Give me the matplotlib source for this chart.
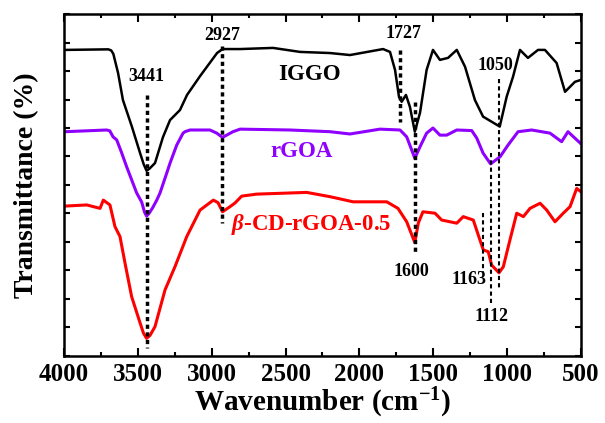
import matplotlib
matplotlib.use('Agg')
from matplotlib import pyplot as plt
from matplotlib.ticker import MultipleLocator
import numpy as np

plt.rcParams['font.family'] = 'Liberation Serif'
plt.rcParams['font.weight'] = 'bold'
plt.rcParams['mathtext.fontset'] = 'custom'
plt.rcParams['mathtext.rm'] = 'Liberation Serif:bold'
plt.rcParams['mathtext.bf'] = 'Liberation Serif:bold'
plt.rcParams['mathtext.it'] = 'Liberation Serif:italic:bold'

# IGGO (black)
iggo_w = [3993, 3700, 3680, 3666, 3634, 3601, 3540, 3485, 3460, 3441, 3420, 3384, 3330,
          3282, 3215, 3167, 3079, 2964, 2927, 2808, 2585, 2402, 2199, 2064, 1840, 1793,
          1759, 1732, 1714, 1685, 1658, 1625, 1590, 1545, 1502, 1455, 1400, 1341, 1285,
          1218, 1163, 1050, 1003, 960, 913, 859, 791, 744, 665, 608, 541, 505]
iggo_t = [10.74, 10.76, 10.72, 10.60, 9.93, 8.98, 8.04, 7.12, 6.72, 6.50, 6.58, 6.77, 7.68,
          8.28, 8.63, 9.16, 9.82, 10.63, 10.77, 10.77, 10.81, 10.67, 10.63, 10.56, 10.77, 10.67,
          10.04, 9.09, 8.92, 9.16, 8.74, 7.87, 8.53, 10.04, 10.74, 10.39, 10.46, 10.74, 10.15,
          8.98, 8.40, 8.05, 9.10, 9.80, 10.74, 10.46, 10.74, 10.74, 10.28, 9.27, 9.62, 9.68]

# rGOA (purple)
rgoa_w = [3993, 3711, 3690, 3668, 3643, 3609, 3576, 3542, 3508, 3474, 3455, 3441, 3425,
          3400, 3372, 3350, 3305, 3282, 3237, 3194, 3181, 3147, 3012, 2966, 2927, 2856,
          2808, 2470, 2199, 2064, 1861, 1725, 1680, 1625, 1590, 1545, 1502, 1455, 1409,
          1341, 1240, 1206, 1163, 1112, 1048, 994, 926, 834, 710, 631, 588, 505]
rgoa_t = [7.87, 7.93, 7.90, 7.69, 7.58, 7.12, 6.64, 6.18, 5.72, 5.40, 5.05, 4.91, 5.00,
          5.20, 5.47, 5.72, 6.41, 6.77, 7.40, 7.82, 7.87, 7.93, 7.93, 7.82, 7.67, 7.87,
          7.96, 7.93, 7.87, 7.79, 7.96, 7.93, 7.69, 6.94, 7.34, 7.82, 8.00, 7.75, 7.75,
          7.93, 7.91, 7.65, 7.12, 6.74, 6.99, 7.40, 7.87, 7.93, 7.82, 7.52, 7.87, 7.47]

# beta-CD-rGOA-0.5 (red)
bcd_w = [3995, 3846, 3756, 3734, 3689, 3655, 3621, 3587, 3542, 3485, 3462, 3441, 3418,
         3384, 3316, 3249, 3169, 3079, 2989, 2957, 2927, 2876, 2842, 2797, 2695, 2357,
         2199, 2043, 1815, 1739, 1680, 1625, 1601, 1570, 1488, 1443, 1387, 1341, 1297,
         1229, 1184, 1161, 1128, 1105, 1055, 1026, 981, 935, 890, 845, 777, 732, 676,
         620, 574, 529, 502]
bcd_t = [5.26, 5.30, 5.18, 5.47, 5.30, 4.54, 4.19, 3.26, 2.08, 1.16, 0.80, 0.62, 0.72,
         1.03, 2.32, 3.13, 4.19, 5.12, 5.47, 5.38, 5.06, 5.24, 5.37, 5.61, 5.68, 5.74,
         5.59, 5.41, 5.41, 5.18, 4.71, 3.98, 4.67, 5.06, 5.01, 4.77, 4.71, 4.66, 4.89,
         4.77, 4.07, 3.72, 3.66, 3.19, 2.92, 3.13, 4.07, 5.01, 4.89, 5.18, 5.36, 5.12, 4.71,
         5.01, 5.24, 5.88, 5.77]

# peak markers: position, line start/end, label, label position
thick_x = [3441, 2927, 1727, 1625]
thick_y0 = [9.16, 10.88, 10.74, 8.92]
thick_y1 = [0.28, 4.67, 8.22, 3.66]
thin_x = [1055, 1112, 1163]
thin_y0 = [9.72, 7.12, 5.02]
thin_y1 = [2.32, 1.86, 2.96]
peak_txt = ['3441', '2927', '1727', '1600', '1050', '1112', '1163']
peak_tx = [3441, 2927, 1700, 1646, 1082, 1104, 1256]
peak_ty = [9.79, 11.23, 11.30, 2.96, 10.21, 1.38, 2.69]

names = ['IGGO', 'rGOA', r'$\beta$-CD-rGOA-0.5']
colors = ['black', '#8F00FF', '#FF0000']
name_x = [2335, 2389, 2330]
name_y = [9.88, 7.16, 4.60]

fig = plt.figure(figsize=(6.05, 4.23), dpi=100)
ax = fig.add_axes([0.1058, 0.1584, 0.8545, 0.8085])

ax.plot(iggo_w, iggo_t, color=colors[0], lw=1.8, solid_joinstyle='round')
ax.plot(rgoa_w, rgoa_t, color=colors[1], lw=2.2, solid_joinstyle='round')
ax.plot(bcd_w, bcd_t, color=colors[2], lw=2.2, solid_joinstyle='round')

for i in range(len(thick_x)):
    ax.plot([thick_x[i], thick_x[i]], [thick_y0[i], thick_y1[i]], color='black',
            lw=2.5, ls=(0, (1.2, 1.0)))
for i in range(len(thin_x)):
    ax.plot([thin_x[i], thin_x[i]], [thin_y0[i], thin_y1[i]], color='black',
            lw=1.5, ls=(0, (2.0, 1.5)))
for i in range(len(peak_txt)):
    ax.text(peak_tx[i], peak_ty[i], peak_txt[i], ha='center', va='center',
            fontsize=13, fontweight='bold')
for i in range(len(names)):
    ax.text(name_x[i], name_y[i], names[i], ha='center', va='center',
            fontsize=16.5, fontweight='bold', color=colors[i])

ax.set_xlim(4000, 500)
ax.set_ylim(0, 12)
ax.xaxis.set_major_locator(MultipleLocator(500))
ax.xaxis.set_minor_locator(MultipleLocator(250))
ax.yaxis.set_major_locator(MultipleLocator(1))
ax.tick_params(axis='both', which='both', direction='in', top=True, right=True, width=1.5)
ax.tick_params(axis='x', which='major', length=6, labelsize=18, pad=5)
ax.tick_params(axis='x', which='minor', length=3)
ax.tick_params(axis='y', which='major', length=4, labelleft=False)
for s in ax.spines.values():
    s.set_linewidth(1.8)

ax.set_xlabel(r'Wavenumber (cm$^{-1}$)', fontsize=21, fontweight='bold', labelpad=0)
ax.set_ylabel('Transmittance (%)', fontsize=20, fontweight='bold', labelpad=18)

plt.savefig('out.png', dpi=100)
